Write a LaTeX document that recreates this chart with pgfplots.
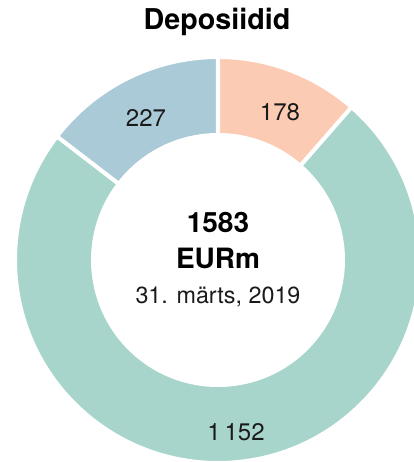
\documentclass[border=0pt]{standalone}
\usepackage{pgfplots}
\usepackage{pgfplotstable}
\pgfplotsset{compat=1.18}
\usepackage{fontspec}
\setmainfont{TeX Gyre Heros}
\definecolor{cpeach}{HTML}{FBCBB3}
\definecolor{cteal}{HTML}{A8D5CB}
\definecolor{cblue}{HTML}{ABCAD7}
\definecolor{ctext}{HTML}{1A1A1A}
\pgfplotstableread{
label value
178 178
1152 1152
227 227
}\deposits
\pgfplotstablegetelem{0}{value}\of\deposits \let\va\pgfplotsretval
\pgfplotstablegetelem{1}{value}\of\deposits \let\vb\pgfplotsretval
\pgfplotstablegetelem{2}{value}\of\deposits \let\vc\pgfplotsretval
\pgfmathsetmacro\tot{\va+\vb+\vc}
\pgfmathsetmacro\aZ{90}
\pgfmathsetmacro\aA{90-360*(\va/\tot)}
\pgfmathsetmacro\aB{\aA-360*(\vb/\tot)}
\pgfmathsetmacro\aC{\aB-360*(\vc/\tot)}
\def\cx{218}\def\cy{202}\def\ro{203}\def\ri{125}
\newcommand\sector[3]{%
  \fill[#3, draw=white, line width=3pt]
    (axis cs:{\cx+\ro*cos(#1)},{\cy+\ro*sin(#1)})
    arc[start angle=#1, end angle=#2, radius=\ro*0.75pt]
    -- (axis cs:{\cx+\ri*cos(#2)},{\cy+\ri*sin(#2)})
    arc[start angle=#2, end angle=#1, radius=\ri*0.75pt] -- cycle;}
\begin{document}
\begin{tikzpicture}
\begin{axis}[x=0.75pt, y=0.75pt, xmin=0, xmax=414, ymin=0, ymax=462,
  hide axis, clip=true, scale only axis]
\begin{scope}
\clip (rel axis cs:0,0) rectangle (rel axis cs:1,1);
\sector{\aZ}{\aA}{cpeach}
\sector{\aA}{\aB}{cteal}
\sector{\aB}{\aC}{cblue}
\end{scope}
\node[font=\fontsize{21.5}{24}\selectfont\bfseries, text=black] at (axis cs:217,440) {Deposiidid};
\node[font=\fontsize{18}{20}\selectfont, text=ctext] at (axis cs:280,350) {178};
\node[font=\fontsize{18}{20}\selectfont, text=ctext] at (axis cs:146,344) {227};
\node[font=\fontsize{18}{20}\selectfont, text=ctext] at (axis cs:236,30) {1\,152};
\node[font=\fontsize{21}{24}\selectfont\bfseries, text=black] at (axis cs:218,240) {1583};
\node[font=\fontsize{21}{24}\selectfont\bfseries, text=black] at (axis cs:218,204) {EURm};
\node[font=\fontsize{17.5}{20}\selectfont, text=ctext] at (axis cs:218,165) {31. märts, 2019};
\end{axis}
\end{tikzpicture}
\end{document}
